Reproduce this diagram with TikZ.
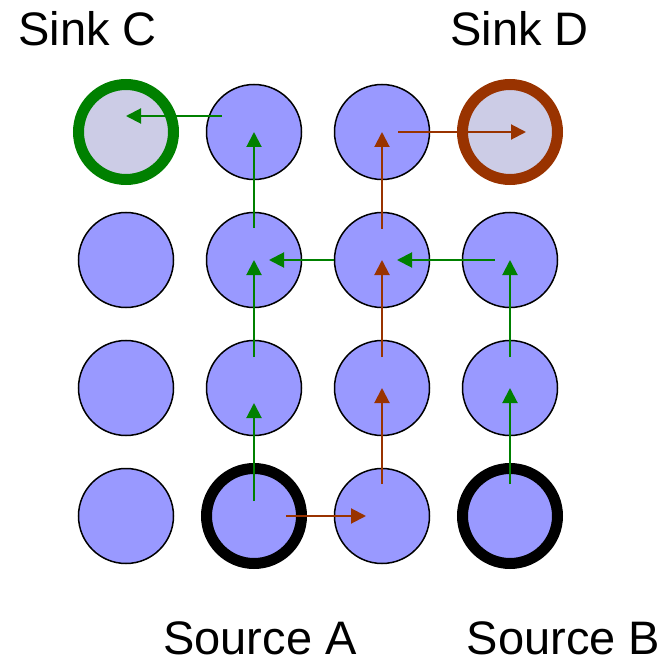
\documentclass[tikz,border=0pt]{standalone}
\usepackage{fontspec}
\setmainfont{Liberation Sans}
\usetikzlibrary{arrows.meta,calc}

\definecolor{cellfill}{HTML}{9999FF}
\definecolor{sinkfill}{HTML}{CCCCE6}
\definecolor{pathgreen}{HTML}{008000}
\definecolor{pathred}{HTML}{993300}

\begin{document}
\begin{tikzpicture}[x=1pt,y=-1pt,
  cell/.style={circle, draw=black, line width=1.5pt, fill=cellfill,
               minimum size=95pt, inner sep=0pt},
  source/.style={cell, line width=11pt},
  sinkc/.style={cell, line width=11pt, draw=pathgreen, fill=sinkfill},
  sinkd/.style={cell, line width=11pt, draw=pathred, fill=sinkfill},
  label/.style={font=\fontsize{47}{56}\selectfont, inner sep=0pt,
                text depth=0pt, anchor=base},
  flowg/.style={draw=pathgreen, line width=2pt, -{Triangle[length=15pt,width=15pt]}},
  flowr/.style={draw=pathred, line width=2pt, -{Triangle[length=15pt,width=15pt]}}]

\useasboundingbox (0,0) rectangle (662,658);

% grid of cells: c<column><row>, row 1 at the top
\foreach \c/\x in {1/126,2/254,3/382,4/510}
  \foreach \r/\y in {1/132,2/260,3/388,4/516}
    \node[cell] (c\c\r) at (\x,\y) {};

% sinks and sources drawn over their cells
\node[sinkc] (sinkC) at (c11) {};
\node[sinkd] (sinkD) at (c41) {};
\node[source] (srcA) at (c24) {};
\node[source] (srcB) at (c44) {};

% labels
\node[label] (lblC) at (87.5,46) {Sink C};
\node[label] (lblD) at (519.5,46) {Sink D};
\node[label] (lblA) at (260,654) {Source A};
\node[label] (lblB) at (563.5,654) {Source B};

% green flow from Source A to Sink C
\draw[flowg] ($(srcA)+(0,-15)$) -- ($(c23)+(0,15)$);
\draw[flowg] ($(c23)+(0,-31)$) -- (c22.center);
\draw[flowg] ($(c22)+(0,-32)$) -- (c21.center);
\draw[flowg] ($(c21)+(-32,-16)$) -- ($(sinkC)+(0,-16)$);

% green flow from Source B
\draw[flowg] ($(srcB)+(0,-32)$) -- (c43.center);
\draw[flowg] ($(c43)+(0,-31)$) -- (c42.center);
\draw[flowg] ($(c42)+(-15,0)$) -- ($(c32)+(15,0)$);
\draw[flowg] ($(c32)+(-48,0)$) -- ($(c22)+(15,0)$);

% red flow from Source A to Sink D
\draw[flowr] ($(srcA)+(32,0)$) -- ($(c34)+(-16,0)$);
\draw[flowr] ($(c34)+(0,-32)$) -- (c33.center);
\draw[flowr] ($(c33)+(0,-31)$) -- (c32.center);
\draw[flowr] ($(c32)+(0,-31)$) -- (c31.center);
\draw[flowr] ($(c31)+(16,0)$) -- ($(sinkD)+(16,0)$);

\end{tikzpicture}
\end{document}
